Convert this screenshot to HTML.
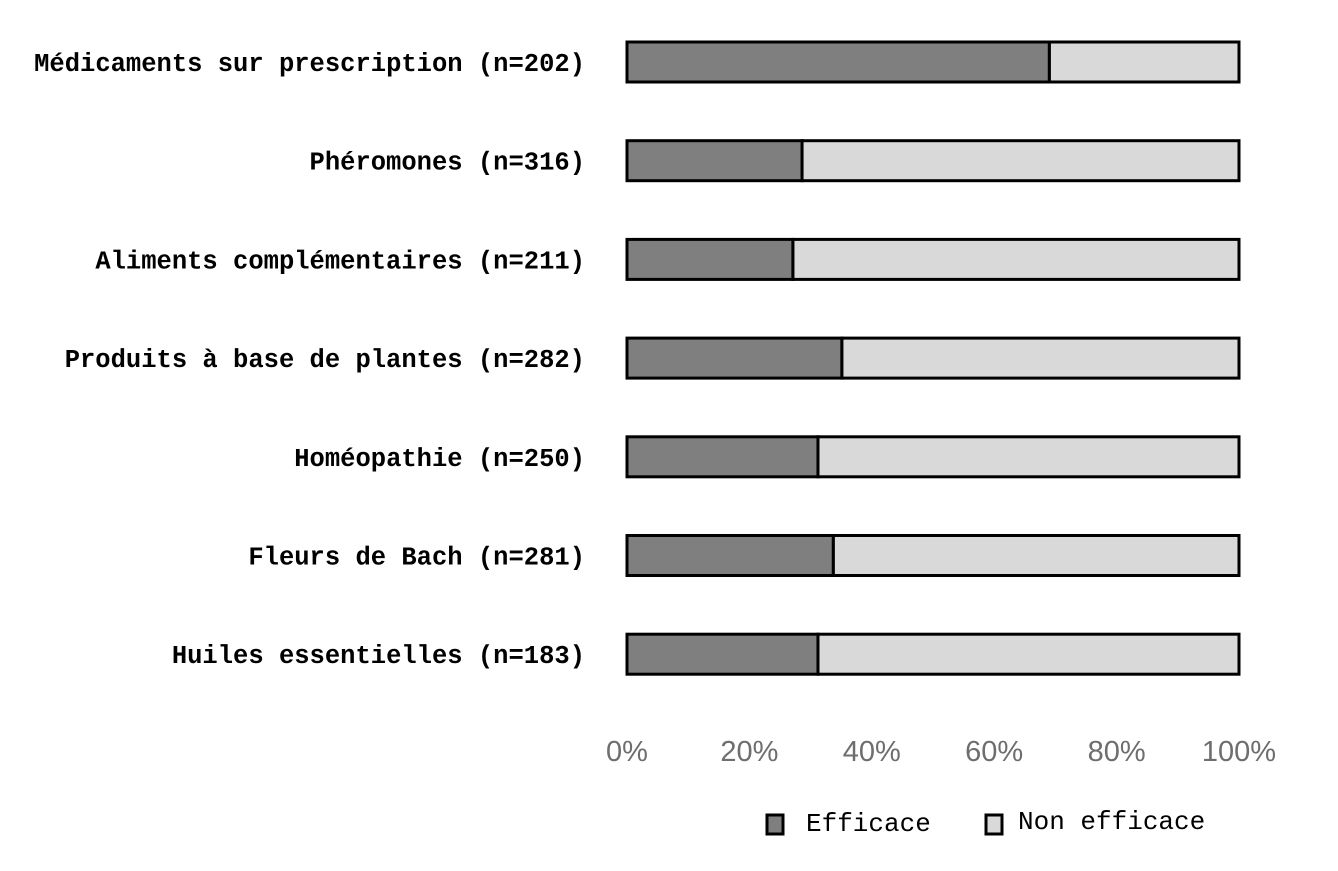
<!DOCTYPE html>
<html><head><meta charset="utf-8"><style>
body{margin:0;background:#fff;width:1338px;height:871px;overflow:hidden}
svg{display:block}
</style></head><body>
<svg id="chart" width="1338" height="871" xmlns="http://www.w3.org/2000/svg"></svg>
<script>
const categories=["Médicaments sur prescription (n=202)","Phéromones (n=316)","Aliments complémentaires (n=211)","Produits à base de plantes (n=282)","Homéopathie (n=250)","Fleurs de Bach (n=281)","Huiles essentielles (n=183)"];
const efficace=[69,28.6,27.1,35.1,31.2,33.7,31.2];
const tickValues=[0,20,40,60,80,100];
const tickLabels=["0%","20%","40%","60%","80%","100%"];
const svg=document.getElementById('chart');
const NS="http://www.w3.org/2000/svg";
const x0=627,x1=1239;
const xs=v=>x0+(x1-x0)*v/100;
const ys=i=>62+i*98.7;
const bh=40;
function mk(t,a){const e=document.createElementNS(NS,t);for(const k in a)e.setAttribute(k,a[k]);svg.appendChild(e);return e;}
categories.forEach((c,i)=>{
  const y=ys(i)-bh/2;
  const t=mk('text',{x:585,y:ys(i)+9,'text-anchor':'end','font-family':'Liberation Mono, monospace','font-weight':'bold','font-size':'25.5',fill:'#000'});
  t.textContent=c;
  
  
  const r2=mk('rect',{x:xs(efficace[i]),y:y,width:xs(100)-xs(efficace[i]),height:bh,fill:'#d9d9d9',stroke:'#000','stroke-width':3});
  
  
  const r1=mk('rect',{x:xs(0),y:y,width:xs(efficace[i])-xs(0),height:bh,fill:'#7f7f7f',stroke:'#000','stroke-width':3});
  
  
});
tickValues.forEach((v,i)=>{
  const t=mk('text',{x:xs(v),y:761,'text-anchor':'middle','font-family':'Liberation Sans, sans-serif','font-size':'29',fill:'#6e6e6e'});
  t.textContent=tickLabels[i];
  
  
});
const l1=mk('rect',{x:767,y:815,width:16,height:19,fill:'#7f7f7f',stroke:'#000','stroke-width':3});


const lt1=mk('text',{x:806,y:831,'font-family':'Liberation Mono, monospace','font-size':'26',fill:'#000'});
lt1.textContent='Efficace';


const l2=mk('rect',{x:986,y:815,width:16,height:19,fill:'#d9d9d9',stroke:'#000','stroke-width':3});


const lt2=mk('text',{x:1018,y:829,'font-family':'Liberation Mono, monospace','font-size':'26',fill:'#000'});
lt2.textContent='Non efficace';


</script>
</body></html>
